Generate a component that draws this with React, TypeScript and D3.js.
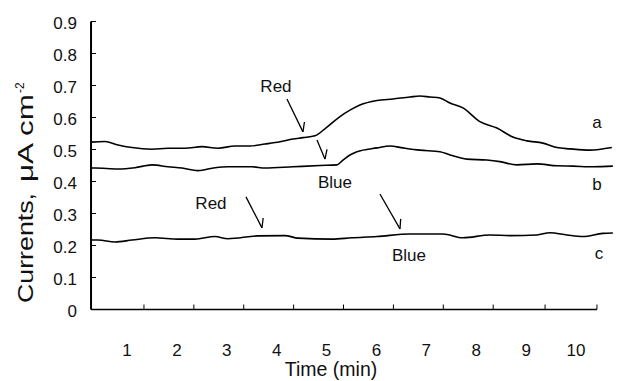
import React from "react";
import * as d3 from "d3";

// ---- data (time in min, current in µA cm^-2) ----
const curveA: [number, number][] = [
  [0.279, 0.523], [0.559, 0.525], [0.82, 0.514], [1.1, 0.506], [1.501, 0.501],
  [1.822, 0.504], [2.162, 0.504], [2.503, 0.509], [2.824, 0.504], [3.164, 0.511],
  [3.465, 0.511], [3.766, 0.517], [4.066, 0.524], [4.327, 0.533], [4.527, 0.537],
  [4.768, 0.543], [5.008, 0.57], [5.269, 0.603], [5.469, 0.623], [5.669, 0.639],
  [6.01, 0.653], [6.331, 0.658], [6.671, 0.664], [6.872, 0.667], [7.072, 0.664],
  [7.273, 0.661], [7.473, 0.645], [7.733, 0.63], [8.074, 0.587], [8.415, 0.567],
  [8.735, 0.539], [9.016, 0.527], [9.337, 0.52], [9.617, 0.506], [9.878, 0.502],
  [10.279, 0.498], [10.719, 0.506],
];
const curveB: [number, number][] = [
  [0.279, 0.442], [0.359, 0.442], [0.82, 0.439], [1.16, 0.443], [1.501, 0.452],
  [1.822, 0.446], [2.102, 0.442], [2.423, 0.434], [2.764, 0.443], [3.024, 0.446],
  [3.505, 0.446], [3.766, 0.442], [4.327, 0.446], [4.868, 0.45], [5.208, 0.452],
  [5.329, 0.467], [5.469, 0.483], [5.609, 0.493], [6.01, 0.505], [6.271, 0.511],
  [6.531, 0.505], [6.872, 0.498], [7.273, 0.493], [7.473, 0.483], [7.814, 0.47],
  [8.214, 0.467], [8.475, 0.462], [8.816, 0.452], [9.216, 0.455], [9.617, 0.449],
  [9.938, 0.448], [10.339, 0.446], [10.739, 0.448],
];
const curveC: [number, number][] = [
  [0.279, 0.217], [0.419, 0.217], [0.76, 0.211], [1.1, 0.217], [1.561, 0.224],
  [2.022, 0.22], [2.363, 0.22], [2.764, 0.228], [3.024, 0.221], [3.625, 0.23],
  [4.166, 0.231], [4.427, 0.223], [5.108, 0.22], [5.509, 0.224], [6.01, 0.228],
  [6.671, 0.236], [7.333, 0.236], [7.733, 0.224], [8.275, 0.233], [8.675, 0.231],
  [9.216, 0.233], [9.477, 0.24], [9.818, 0.233], [10.138, 0.228], [10.539, 0.238],
  [10.739, 0.239],
];
const series = [curveA, curveB, curveC];

const xTickLabels = [1, 2, 3, 4, 5, 6, 7, 8, 9, 10];
const xTickMarks = [1.34, 2.34, 3.34, 4.34, 5.34, 6.34, 7.34, 8.34, 9.38, 10.42];
const yTicks = [0, 0.1, 0.2, 0.3, 0.4, 0.5, 0.6, 0.7, 0.8, 0.9];

const curveLabels = [
  { text: "a", t: 10.42, v: 0.567 },
  { text: "b", t: 10.42, v: 0.373 },
  { text: "c", t: 10.46, v: 0.158 },
];
const notes = [
  { text: "Red", t: 3.986, v: 0.68 },
  { text: "Blue", t: 5.168, v: 0.38 },
  { text: "Red", t: 2.683, v: 0.314 },
  { text: "Blue", t: 6.651, v: 0.152 },
];
const arrows = [
  { t0: 4.206, v0: 0.658, t1: 4.527, v1: 0.555 },
  { t0: 4.808, v0: 0.53, t1: 4.968, v1: 0.47 },
  { t0: 3.385, v0: 0.352, t1: 3.705, v1: 0.255 },
  { t0: 6.07, v0: 0.361, t1: 6.471, v1: 0.252 },
];

const W = 621;
const H = 381;
const FONT = "'Liberation Sans', Arial, Helvetica, sans-serif";

export default function App() {
  const x = d3.scaleLinear().domain([1, 10]).range([127, 576]);
  const y = d3.scaleLinear().domain([0, 0.9]).range([309.5, 21.5]);
  const xMin = 0.279;
  const xMax = 10.42;
  const line = d3
    .line<[number, number]>()
    .x((d) => x(d[0]))
    .y((d) => y(d[1]))
    .curve(d3.curveMonotoneX);

  const barb = (a: typeof arrows[number]) => {
    const x0 = x(a.t0), y0 = y(a.v0), x1 = x(a.t1), y1 = y(a.v1);
    const ang = Math.atan2(y0 - y1, x0 - x1);
    const b = ang + 0.6;
    const L = 10;
    return `M${x1 + L * Math.cos(b)},${y1 + L * Math.sin(b)}L${x1},${y1}`;
  };

  return (
    <svg
      width={W}
      height={H}
      style={{ position: "absolute", left: 0, top: 0, background: "#fff" }}
      fontFamily={FONT}
    >
      {/* axes */}
      <line x1={x(xMin)} x2={x(xMin)} y1={y(0.9)} y2={y(0)} stroke="#000" strokeWidth={2} />
      <line x1={x(xMin)} x2={x(xMax)} y1={y(0)} y2={y(0)} stroke="#000" strokeWidth={1.5} />
      {yTicks.map((v) => (
        <g key={v}>
          <line x1={x(xMin)} x2={x(xMin) + 5} y1={y(v)} y2={y(v)} stroke="#000" strokeWidth={1} />
          <text x={77} y={y(v) + 7.5} fontSize={17} textAnchor="end" fill="#111">
            {String(v)}
          </text>
        </g>
      ))}
      {xTickMarks.map((t) => (
        <line key={t} x1={x(t)} x2={x(t)} y1={y(0)} y2={y(0) - 5} stroke="#000" strokeWidth={1} />
      ))}
      {xTickLabels.map((t) => (
        <text key={t} x={x(t)} y={355.5} fontSize={17} textAnchor="middle" fill="#111">
          {t}
        </text>
      ))}
      <text x={331} y={376} fontSize={19.5} textAnchor="middle" fill="#111">
        Time (min)
      </text>
      <g transform="translate(33,303) rotate(-90)" fill="#111" fontSize={22}>
        <text x={0} y={0} textLength={110} lengthAdjust="spacingAndGlyphs">Currents,</text>
        <text x={121} y={0} textLength={88} lengthAdjust="spacingAndGlyphs">μA cm</text>
        <text x={210} y={-9} fontSize={12}>-2</text>
      </g>

      {/* data */}
      {series.map((s, i) => (
        <path key={i} d={line(s) ?? ""} fill="none" stroke="#000" strokeWidth={1.6} />
      ))}

      {/* annotations */}
      {curveLabels.map((c) => (
        <text key={c.text} x={x(c.t)} y={y(c.v)} fontSize={17} textAnchor="middle" fill="#111">
          {c.text}
        </text>
      ))}
      {notes.map((n, i) => (
        <text key={i} x={x(n.t)} y={y(n.v)} fontSize={17} textAnchor="middle" fill="#111">
          {n.text}
        </text>
      ))}
      {arrows.map((a, i) => (
        <g key={i} stroke="#000" strokeWidth={1.3} fill="none">
          <line x1={x(a.t0)} y1={y(a.v0)} x2={x(a.t1)} y2={y(a.v1)} />
          <path d={barb(a)} />
        </g>
      ))}
    </svg>
  );
}
